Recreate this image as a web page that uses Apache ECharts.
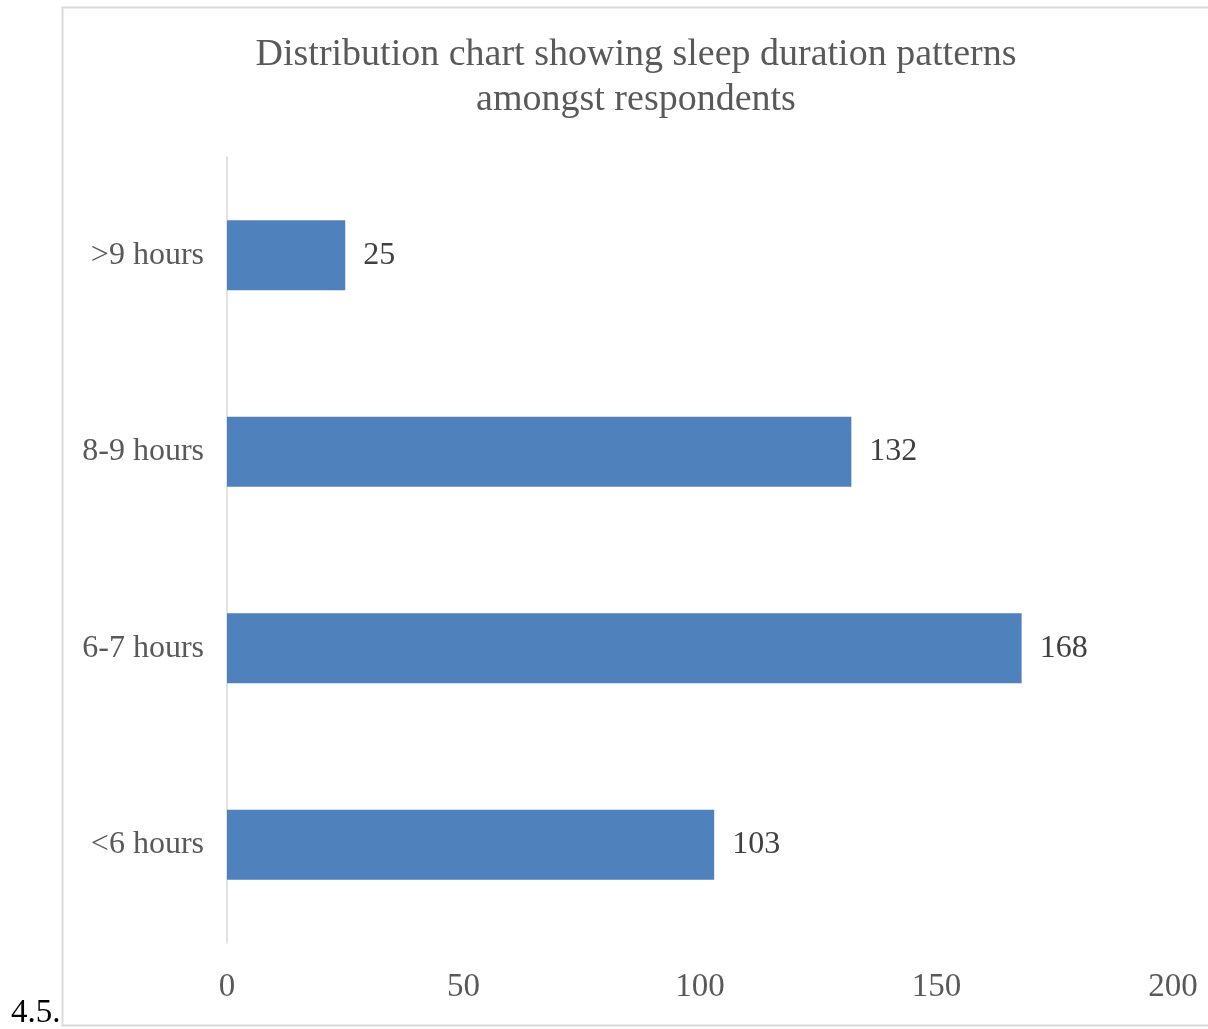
<!DOCTYPE html>
<html>
<head>
<meta charset="utf-8">
<script src="https://cdn.jsdelivr.net/npm/echarts@6/dist/echarts.min.js"></script>
<style>
  html, body { margin: 0; padding: 0; background: #fff; }
  #chart { width: 1208px; height: 1029px; }
</style>
</head>
<body>
<div id="chart"></div>
<script>
// Sleep duration groups, bottom to top
const categories = ['<6 hours', '6-7 hours', '8-9 hours', '>9 hours'];
const respondents = [103, 168, 132, 25];
const axisMin = 0;
const axisMax = 200;
const axisStep = 50;

const serif = '"Liberation Serif", "Times New Roman", serif';
const chart = echarts.init(document.getElementById('chart'));

chart.setOption({
  backgroundColor: '#ffffff',
  animation: false,
  title: {
    text: 'Distribution chart showing sleep duration patterns\namongst respondents',
    left: 631,
    textAlign: 'center',
    top: 28,
    textStyle: {
      fontFamily: serif,
      fontSize: 38,
      fontWeight: 'normal',
      color: '#595959',
      lineHeight: 45
    }
  },
  graphic: [
    {
      type: 'rect',
      shape: { x: 62.5, y: 7.5, width: 1160, height: 1018 },
      style: { fill: 'none', stroke: '#d9d9d9', lineWidth: 2 },
      silent: true
    },
    {
      type: 'text',
      left: 11,
      top: 997,
      style: {
        text: '4.5.',
        font: '33px ' + serif,
        fill: '#000000'
      }
    }
  ],
  grid: {
    left: 227,
    right: 35,
    top: 157,
    bottom: 86,
    containLabel: false
  },
  xAxis: {
    type: 'value',
    min: axisMin,
    max: axisMax,
    interval: axisStep,
    axisLine: { show: false },
    axisTick: { show: false },
    splitLine: { show: false },
    axisLabel: {
      margin: 28,
      fontFamily: serif,
      fontSize: 33,
      color: '#595959'
    }
  },
  yAxis: {
    type: 'category',
    data: categories,
    axisLine: { show: true, lineStyle: { color: '#d9d9d9', width: 1.5 } },
    axisTick: { show: false },
    axisLabel: {
      margin: 23,
      padding: [4, 0, 0, 0],
      fontFamily: serif,
      fontSize: 32,
      color: '#595959'
    }
  },
  series: [
    {
      type: 'bar',
      data: respondents,
      barWidth: '35.5%',
      itemStyle: { color: '#4f81bd' },
      label: {
        show: true,
        position: 'right',
        distance: 18,
        padding: [4, 0, 0, 0],
        fontFamily: serif,
        fontSize: 32,
        color: '#404040'
      }
    }
  ]
});
</script>
</body>
</html>
